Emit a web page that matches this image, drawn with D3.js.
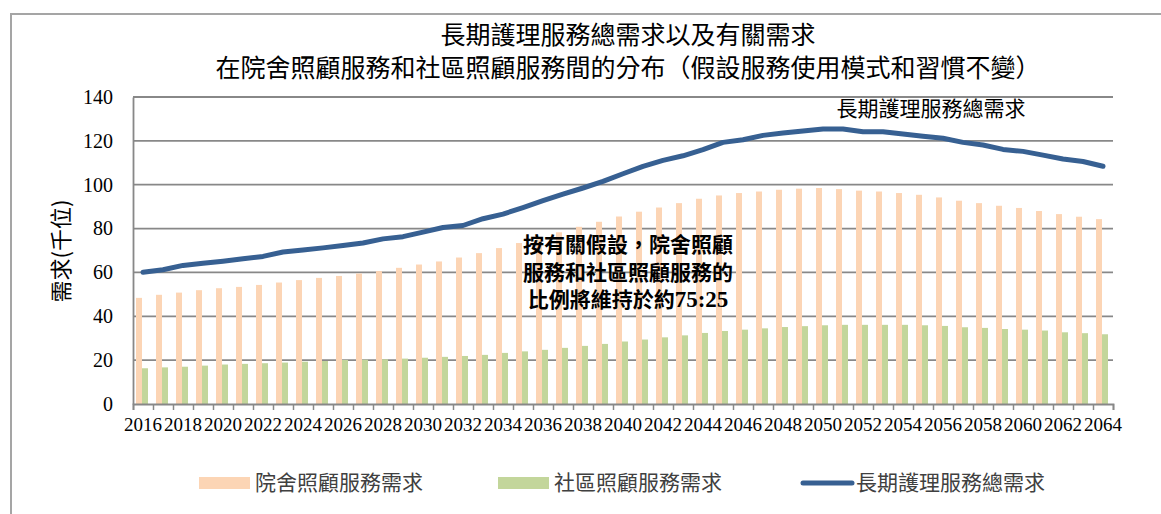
<!DOCTYPE html>
<html><head><meta charset="utf-8">
<script src="https://cdn.jsdelivr.net/npm/d3@7"></script>
<style>
html,body{margin:0;padding:0;background:#fff;}
svg{display:block;}
</style></head>
<body>
<svg id="chart" width="1161" height="514"></svg>
<script>
const years = [2016,2017,2018,2019,2020,2021,2022,2023,2024,2025,2026,2027,2028,2029,2030,2031,2032,2033,2034,2035,2036,2037,2038,2039,2040,2041,2042,2043,2044,2045,2046,2047,2048,2049,2050,2051,2052,2053,2054,2055,2056,2057,2058,2059,2060,2061,2062,2063,2064];
const residential = [48.4,49.8,50.8,51.9,52.8,53.4,54.3,55.4,56.5,57.5,58.4,59.5,60.6,62.1,63.6,65.0,66.8,68.8,71.1,73.4,75.8,78.3,80.8,83.1,85.5,87.7,89.6,91.6,93.6,95.1,96.2,96.9,97.7,98.2,98.5,98.0,97.3,96.9,96.2,95.4,94.2,92.7,91.6,90.4,89.4,88.0,86.6,85.4,84.3];
const community = [16.3,16.7,17.0,17.5,18.0,18.3,18.6,18.9,19.3,19.6,20.1,20.2,20.4,20.7,21.1,21.5,21.9,22.4,23.3,24.0,24.7,25.6,26.5,27.4,28.5,29.4,30.4,31.3,32.4,33.3,33.9,34.5,35.1,35.5,35.9,36.1,36.1,36.1,36.1,35.9,35.6,35.0,34.7,34.2,33.9,33.5,32.7,32.3,31.8];
const total = [60.1,61.2,63.2,64.2,65.1,66.2,67.3,69.3,70.2,71.2,72.3,73.4,75.3,76.3,78.4,80.5,81.4,84.5,86.6,89.6,92.7,95.7,98.5,101.5,105.0,108.4,111.1,113.2,116.0,119.3,120.5,122.5,123.6,124.5,125.4,125.4,124.2,124.2,123.1,122.1,121.2,119.3,118.1,116.1,115.2,113.5,111.7,110.6,108.4];
const yTicks = [0,20,40,60,80,100,120,140];
const xLabelYears = [2016,2018,2020,2022,2024,2026,2028,2030,2032,2034,2036,2038,2040,2042,2044,2046,2048,2050,2052,2054,2056,2058,2060,2062,2064];
const seriesNames = ["院舍照顧服務需求","社區照顧服務需求","長期護理服務總需求"];
const titleLines = ["長期護理服務總需求以及有關需求","在院舍照顧服務和社區照顧服務間的分布（假設服務使用模式和習慣不變）"];
const yAxisTitle = "需求(千位)";
const noteLines = ["按有關假設，院舍照顧","服務和社區照顧服務的","比例將維持於約75:25"];
const lineLabel = "長期護理服務總需求";

(function(){
const colors = {res:"#FCD5B5", com:"#C3D69B", line:"#376092", grid:"#888888"};
const CJK = "'Noto Sans CJK TC','Noto Sans CJK SC',sans-serif";
const SERIF = "'Liberation Serif','Times New Roman',serif";

const svg = d3.select("#chart");
const pLeft = 133, pRight = 1113, pTop = 97, pBottom = 404;

svg.append("path").attr("d", `M11,514 L11,14 L1161,14`).attr("fill","none").attr("stroke","#a5a5a5").attr("stroke-width",2);

const x = d3.scaleBand().domain(years).range([pLeft,pRight]).paddingInner(0).paddingOuter(0);
const sub = d3.scaleBand().domain(["res","com"]).range([3,15]);
const y = d3.scaleLinear().domain([0,140]).range([pBottom,pTop]);
const xi = d3.scaleLinear().domain([0,years.length]).range([pLeft,pRight]);

svg.append("g").selectAll("line").data(yTicks.filter(d=>d>0)).join("line")
  .attr("x1",pLeft).attr("x2",pRight).attr("y1",d=>y(d)).attr("y2",d=>y(d))
  .attr("stroke",colors.grid).attr("stroke-width",1.8);

const data = years.map((yr,i)=>({yr,res:residential[i],com:community[i],tot:total[i]}));
const g = svg.append("g");
["res","com"].forEach(k=>{
  g.selectAll("rect."+k).data(data).join("rect").attr("class",k)
    .attr("x",d=>x(d.yr)+sub(k)).attr("width",sub.bandwidth())
    .attr("y",d=>y(d[k])).attr("height",d=>y(0)-y(d[k]))
    .attr("fill",colors[k]);
});

const yAxis = svg.append("g").attr("transform",`translate(${pLeft},0)`)
  .call(d3.axisLeft(y).tickValues(yTicks).tickSize(0).tickPadding(20));
yAxis.select(".domain").attr("stroke",colors.grid).attr("stroke-width",1.8);
yAxis.selectAll("text").attr("font-family",SERIF).attr("font-size",20).attr("fill","#000");

const xTicks = svg.append("g").attr("transform",`translate(0,${pBottom})`)
  .call(d3.axisBottom(xi).tickValues(d3.range(0,years.length+1)).tickSize(6).tickFormat(""));
xTicks.select(".domain").attr("stroke",colors.grid).attr("stroke-width",1.8);
xTicks.selectAll(".tick line").attr("stroke",colors.grid).attr("stroke-width",1.5);

const xAxis = svg.append("g").attr("transform",`translate(0,${pBottom})`)
  .call(d3.axisBottom(x).tickValues(xLabelYears).tickSize(0).tickPadding(14));
xAxis.select(".domain").remove();
xAxis.selectAll("text").attr("font-family",SERIF).attr("font-size",19).attr("fill","#000");

const line = d3.line().x(d=>x(d.yr)+x.bandwidth()/2).y(d=>y(d.tot));
svg.append("path").datum(data).attr("d",line).attr("fill","none")
  .attr("stroke",colors.line).attr("stroke-width",5).attr("stroke-linecap","round").attr("stroke-linejoin","round");

svg.append("g").selectAll("text").data(titleLines).join("text")
  .attr("x",628).attr("y",(d,i)=>35+i*33).attr("dy","0.35em")
  .attr("text-anchor","middle").attr("font-family",CJK).attr("font-size",25).attr("fill","#000").text(d=>d);

svg.append("text").attr("transform","translate(61,251) rotate(-90)")
  .attr("text-anchor","middle").attr("dy","0.35em")
  .attr("font-family",CJK).attr("font-size",22).attr("fill","#000").text(yAxisTitle);

svg.append("text").attr("x",931).attr("y",109).attr("dy","0.35em").attr("text-anchor","middle")
  .attr("font-family",CJK).attr("font-size",21).attr("fill","#000").text(lineLabel);

const note = svg.append("g").selectAll("text").data(noteLines).join("text")
  .attr("x",628).attr("y",(d,i)=>245+i*27.5).attr("dy","0.35em").attr("text-anchor","middle")
  .attr("font-size",21).attr("font-weight","bold").attr("fill","#000");
note.each(function(d){
  const parts = d.match(/[0-9:]+|[^0-9:]+/g);
  const t = d3.select(this);
  parts.forEach(p=>{
    t.append("tspan").attr("font-family", /^[0-9:]+$/.test(p) ? SERIF : CJK)
      .attr("font-size", /^[0-9:]+$/.test(p) ? 23 : 21).text(p);
  });
});

const leg = svg.append("g");
const legItems = [
  {name:seriesNames[0], type:"rect", color:colors.res, x:199},
  {name:seriesNames[1], type:"rect", color:colors.com, x:498},
  {name:seriesNames[2], type:"line", color:colors.line, x:800}
];
legItems.forEach(it=>{
  if(it.type==="rect"){
    leg.append("rect").attr("x",it.x).attr("y",477).attr("width",51).attr("height",12).attr("fill",it.color);
  } else {
    leg.append("line").attr("x1",it.x+3).attr("x2",it.x+52).attr("y1",483).attr("y2",483)
      .attr("stroke",it.color).attr("stroke-width",5).attr("stroke-linecap","round");
  }
  leg.append("text").attr("x",it.x+56).attr("y",483).attr("dy","0.35em")
    .attr("font-family",CJK).attr("font-size",21).attr("fill","#404040").text(it.name);
});
})();
</script>
</body></html>
